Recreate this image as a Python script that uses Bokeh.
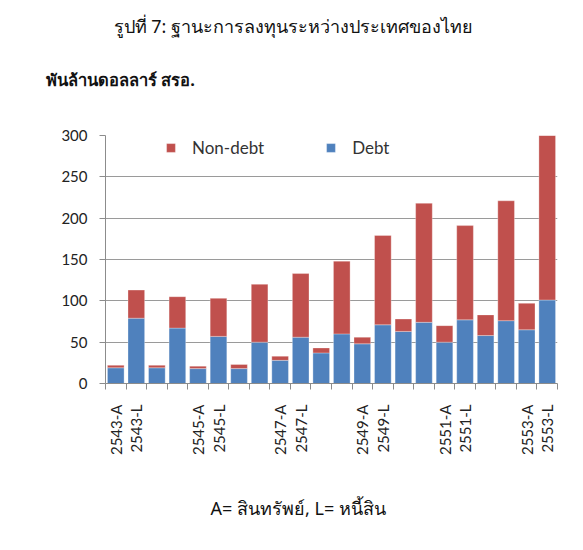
from bokeh.plotting import figure
from bokeh.layouts import column
from bokeh.models import Range1d, FixedTicker, Legend, LegendItem, ColumnDataSource, LinearAxis
from bokeh.core.properties import value
from bokeh.embed import file_html
from bokeh.resources import INLINE
import math

# ---- data ----
periods = ["2543-A", "2543-L", "2544-A", "2544-L", "2545-A", "2545-L", "2546-A", "2546-L",
           "2547-A", "2547-L", "2548-A", "2548-L", "2549-A", "2549-L", "2550-A", "2550-L",
           "2551-A", "2551-L", "2552-A", "2552-L", "2553-A", "2553-L"]
shown_labels = ["2543-A", "2543-L", "2545-A", "2545-L", "2547-A", "2547-L",
                "2549-A", "2549-L", "2551-A", "2551-L", "2553-A", "2553-L"]
debt = [19, 79, 19, 67, 18, 57, 18, 50, 28, 56, 37, 60, 48, 71, 63, 74, 50, 77, 58, 76, 65, 101]
nondebt = [3, 34, 3, 38, 3, 46, 5, 70, 5, 77, 6, 88, 8, 108, 15, 144, 20, 114, 25, 145, 32, 199]
y_ticks = [0, 50, 100, 150, 200, 250, 300]

title_text = "รูปที่ 7: ฐานะการลงทุนระหว่างประเทศของไทย"
unit_text = "พันล้านดอลลาร์ สรอ."
note_text = "A= สินทรัพย์, L= หนี้สิน"

BLUE = "#4F81BD"
RED = "#C0504D"
FONT = "Lato"
THAI = "Noto Sans"
W = 567
HEAD_H, MAIN_H, FOOT_H = 93, 377, 64
FRAME_L, FRAME_R = 105, 557   # frames of the stacked plots are aligned
HEAD_FRAME_H = 71             # header frame above its label strip


def text_panel(h, yr):
    f = figure(width=W, height=h, output_backend="svg", toolbar_location=None,
               x_range=Range1d(FRAME_L, FRAME_R), y_range=Range1d(yr, 0),
               x_axis_type=None, y_axis_type=None,
               min_border_left=0, min_border_right=0, min_border_top=0, min_border_bottom=0)
    f.outline_line_color = None
    f.xgrid.visible = False
    f.ygrid.visible = False
    return f


# ---- header: title + unit line (unit line drawn as a label strip so it may extend left) ----
head = text_panel(HEAD_H, HEAD_FRAME_H)
head.text(x=[113], y=[27], text=[title_text], text_align="left", text_baseline="middle",
          text_font=value(THAI), text_font_size=value("18px"), text_color="#111111")
unit_axis = LinearAxis(ticker=FixedTicker(ticks=[120]), major_label_overrides={120: unit_text},
                       axis_line_color=None, major_tick_line_color=None,
                       minor_tick_line_color=None, major_tick_out=0, major_tick_in=0,
                       major_label_standoff=0, major_label_text_font=THAI,
                       major_label_text_font_size="16.5px", major_label_text_font_style="bold",
                       major_label_text_color="#111111")
head.add_layout(unit_axis, "below")

# ---- main chart ----
xs = list(range(len(periods)))
src = ColumnDataSource(dict(x=xs, debt=debt, nondebt=nondebt))

p = figure(width=W, height=MAIN_H, output_backend="svg", toolbar_location=None,
           x_range=Range1d(-0.5, len(periods) - 0.5), y_range=Range1d(0, 300),
           min_border_left=FRAME_L, min_border_right=W - FRAME_R,
           min_border_top=42, min_border_bottom=87)
p.outline_line_color = None

r = p.vbar_stack(["debt", "nondebt"], x="x", width=0.81, source=src,
                 color=[BLUE, RED], line_color="white", line_alpha=0.5, line_width=0.6)

p.xaxis.ticker = FixedTicker(ticks=[periods.index(s) for s in shown_labels],
                             minor_ticks=[i - 0.5 for i in range(len(periods) + 1)])
p.xaxis.major_label_overrides = {periods.index(s): s for s in shown_labels}
p.xaxis.major_label_orientation = math.pi / 2
p.xaxis.major_tick_out = 0
p.xaxis.major_tick_in = 0
p.xaxis.minor_tick_out = 6
p.xaxis.minor_tick_in = 0
p.xaxis.major_label_standoff = 15
p.xaxis.major_label_text_font = FONT
p.xaxis.major_label_text_font_size = "15px"
p.xaxis.major_label_text_color = "#222222"
p.xaxis.axis_line_color = "#8c8c8c"
p.xaxis.minor_tick_line_color = "#8c8c8c"

p.yaxis.ticker = FixedTicker(ticks=y_ticks)
p.yaxis.minor_tick_line_color = None
p.yaxis.major_tick_out = 6
p.yaxis.major_tick_in = 0
p.yaxis.major_label_standoff = 12
p.yaxis.major_label_text_font = FONT
p.yaxis.major_label_text_font_size = "15px"
p.yaxis.major_label_text_color = "#222222"
p.yaxis.axis_line_color = "#8c8c8c"
p.yaxis.major_tick_line_color = "#8c8c8c"

p.xgrid.grid_line_color = None
p.ygrid.ticker = FixedTicker(ticks=y_ticks)
p.ygrid.grid_line_color = "#9a9a9a"
p.ygrid.grid_line_width = 1.2

legend = Legend(items=[LegendItem(label="Non-debt", renderers=[r[1]]),
                       LegendItem(label="Debt", renderers=[r[0]])],
                orientation="horizontal", location=(60, 225),
                glyph_width=11, glyph_height=11, label_standoff=16, spacing=61,
                padding=0, margin=0, border_line_color=None, background_fill_alpha=0,
                label_text_font=FONT, label_text_font_size="17px", label_text_color="#333333",
                label_height=16)
p.add_layout(legend, "center")

# ---- footer ----
foot = text_panel(FOOT_H, FOOT_H)
foot.text(x=[210], y=[37], text=[note_text], text_align="left", text_baseline="middle",
          text_font=value(THAI), text_font_size=value("18px"), text_color="#111111")

layout = column(head, p, foot, spacing=0)
open("out.html", "w").write(file_html(layout, INLINE))
